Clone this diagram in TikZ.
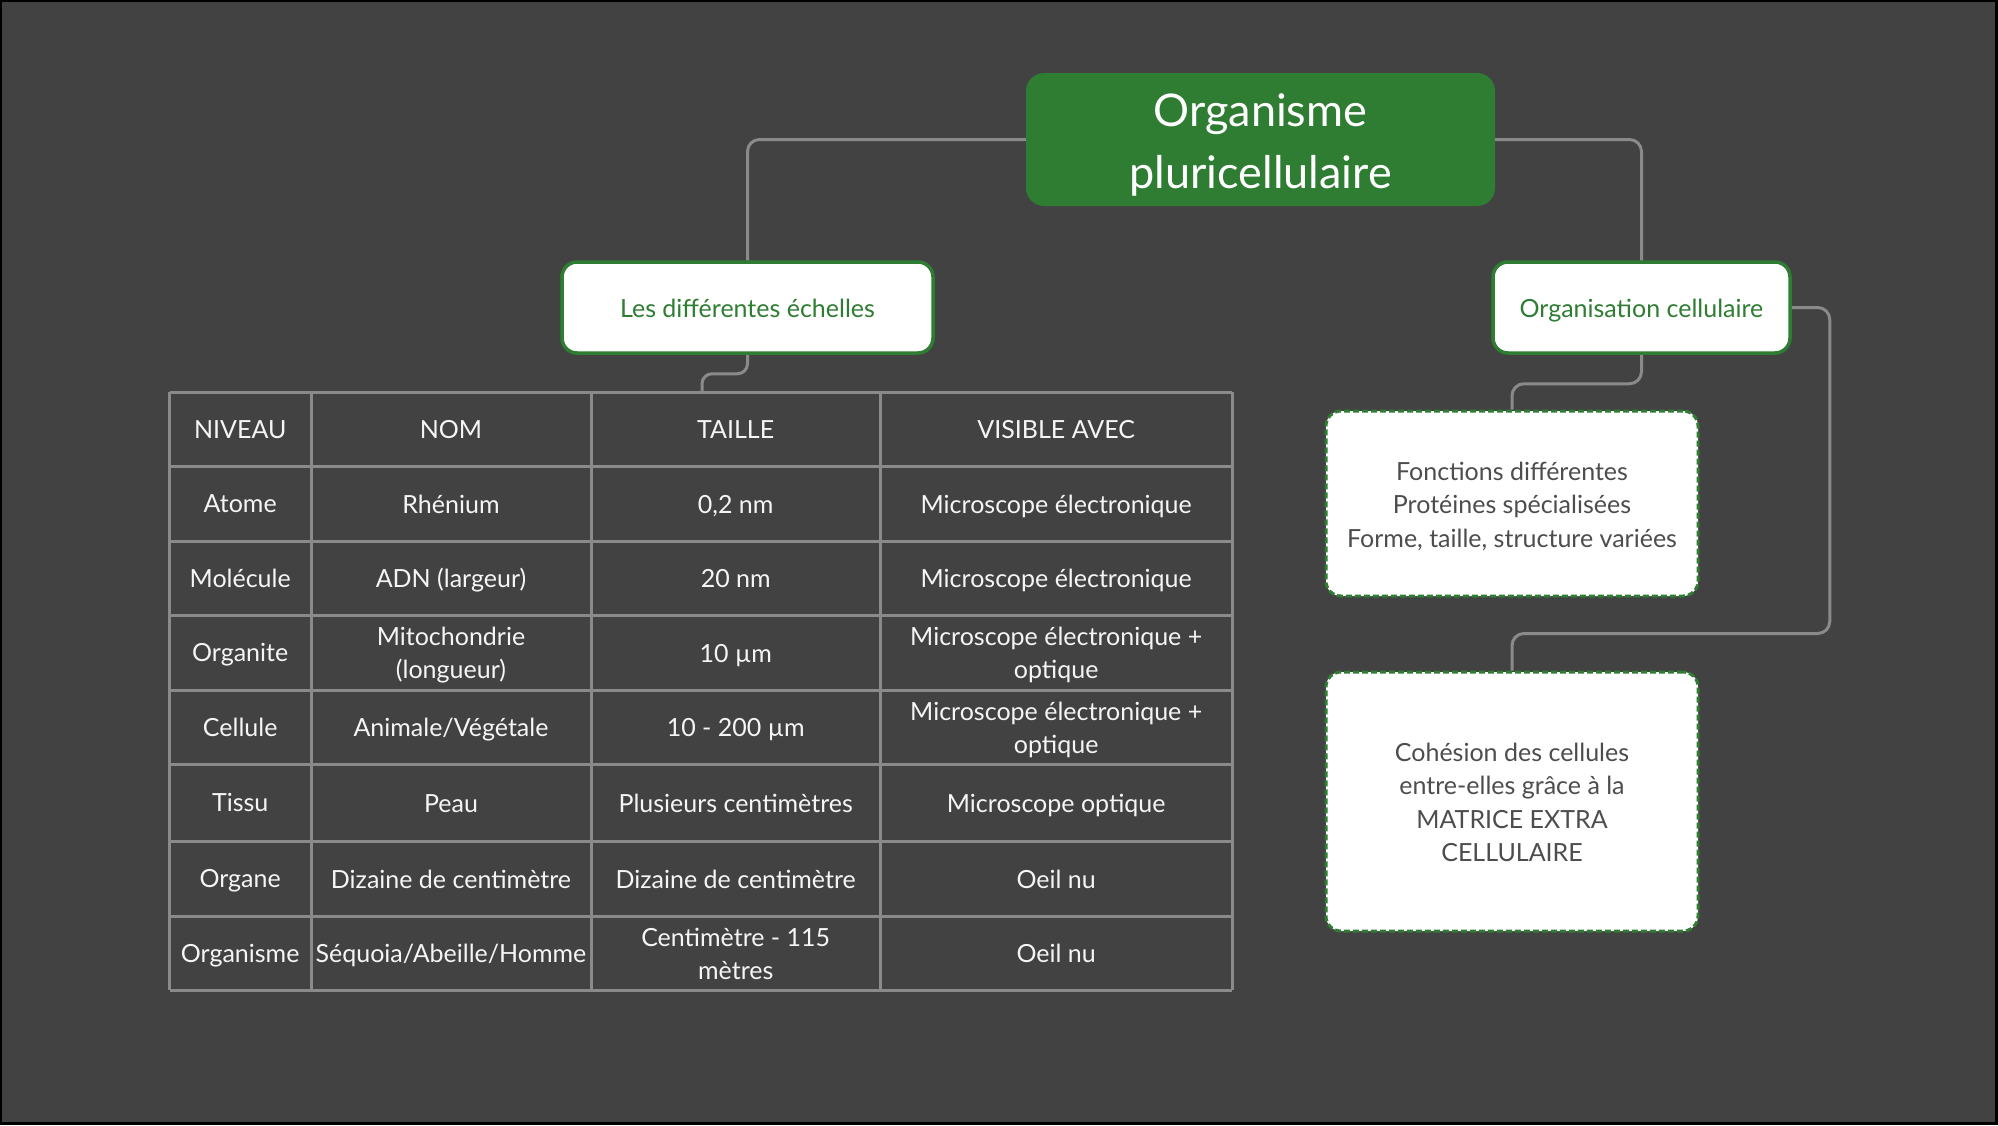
\documentclass[tikz,border=0pt]{standalone}
\usepackage{fontspec}
\setmainfont{Lato}
\definecolor{BgGrey}{HTML}{424242}
\definecolor{LeafGreen}{HTML}{2E7D32}
\definecolor{LineGrey}{HTML}{8A8A8A}
\definecolor{NoteGrey}{HTML}{4D4D4D}
\newcommand{\lineup}{\rule{0pt}{1em}}
\tikzset{
	conn/.style={line width=3pt, LineGrey, rounded corners=12pt},
	grid/.style={line width=3pt, LineGrey},
	struts/.style 2 args={execute at begin node={\rule{0pt}{#1}},
		execute at end node={\rule[-#2]{0pt}{#2}}},
	rootbox/.style={fill=LeafGreen, rounded corners=18pt, inner sep=0pt, align=center,
		text=white, font=\fontsize{45}{62}\selectfont, struts={1em}{0.2em}},
	topicbox/.style={draw=LeafGreen, line width=3.5pt, fill=white, rounded corners=15pt,
		inner sep=0pt, text=LeafGreen, font=\fontsize{25}{33}\selectfont, struts={1em}{0.2em}},
	notebox/.style={draw=LeafGreen, line width=3pt, dash pattern=on 6pt off 3pt, fill=white,
		rounded corners=15pt, inner sep=0pt, align=center, text=NoteGrey,
		font=\fontsize{25}{33.5}\selectfont, struts={1em}{0.2em}},
	cell/.style={text=white!96!black, align=center, inner sep=0pt,
		font=\fontsize{25}{33}\selectfont, struts={0.95em}{0.23em}}
}

\begin{document}
\begin{tikzpicture}[x=1pt, y=-1pt]
	% background
	\fill[black] (0,0) rectangle (1998,1125);
	\fill[BgGrey] (2,2) rectangle (1995,1122);

	% boxes
	\node[rootbox, minimum width=469pt, minimum height=133pt] (root) at (1260.5,139.5) {\lineup Organisme\\pluricellulaire};
	\node[topicbox, minimum width=371pt, minimum height=91pt] (echelles) at (747.5,307.5) {Les différentes échelles};
	\node[topicbox, minimum width=297pt, minimum height=91pt] (orga) at (1641.5,307.5) {Organisation cellulaire};
	\node[notebox, minimum width=372pt, minimum height=185pt] (fonctions) at (1512,503.5)
		{\lineup Fonctions différentes\\Protéines spécialisées\\Forme, taille, structure variées};
	\node[notebox, minimum width=372pt, minimum height=259pt] (cohesion) at (1512,801.5)
		{\lineup Cohésion des cellules\\entre-elles grâce à la\\MATRICE EXTRA\\CELLULAIRE};

	% table grid
	\coordinate (tabtop) at (702,392);
	\foreach \y in {392, 466.7, 541, 615, 690, 764, 841.5, 916, 990}{
		\draw[grid] (169.5,\y) -- (1232,\y);
	}
	\foreach \x in {169.5, 311, 591, 880.5, 1232}{
		\draw[grid] (\x,392) -- (\x,990);
	}

	% table text
	\foreach \yc/\niv/\nom/\taille/\vis [count=\r] in {
		429.3/NIVEAU/NOM/TAILLE/VISIBLE AVEC,
		503.8/Atome/Rhénium/{0,2 nm}/Microscope électronique,
		578/Molécule/ADN (largeur)/20 nm/Microscope électronique,
		652.5/Organite/{Mitochondrie\\(longueur)}/10 µm/{Microscope électronique +\\optique},
		727/Cellule/{Animale/Végétale}/10 - 200 µm/{Microscope électronique +\\optique},
		802.7/Tissu/Peau/Plusieurs centimètres/Microscope optique,
		878.7/Organe/Dizaine de centimètre/Dizaine de centimètre/Oeil nu,
		953/Organisme/{Séquoia/Abeille/Homme}/{Centimètre - 115\\mètres}/Oeil nu}{
		\node[cell] (niv-\r) at (240.2,\yc) {\niv};
		\node[cell] (nom-\r) at (451,\yc) {\lineup\nom};
		\node[cell] (taille-\r) at (735.7,\yc) {\lineup\taille};
		\node[cell] (vis-\r) at (1056.2,\yc) {\lineup\vis};
	}

	% connectors
	\draw[conn] (root.west) -| (echelles.north);
	\draw[conn] (root.east) -| (orga.north);
	\draw[conn, rounded corners=10pt] (echelles.south) -- ++(0,19) -| (tabtop);
	\draw[conn] (orga.south) -- ++(0,29) -| (fonctions.north);
	\draw[conn] (orga.east) -- ++(38,0) -- ++(0,326) -| (cohesion.north);
\end{tikzpicture}
\end{document}
